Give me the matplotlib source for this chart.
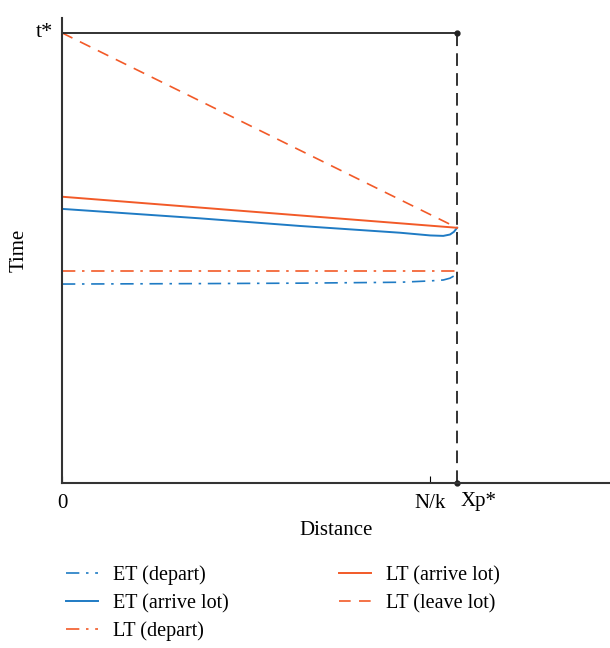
import matplotlib.pyplot as plt

plt.rcParams['font.family'] = ['Liberation Serif', 'DejaVu Serif']

# data (distance normalised so Xp* = 1, time normalised so t* = 1)
x_line = [0.0, 1.0]
lt_leave = [1.0, 0.567]
lt_arrive = [0.636, 0.567]
lt_depart = [0.471, 0.471]

x_et_arrive = [0.0, 0.349, 0.603, 0.856, 0.932, 0.965, 0.982, 0.992, 1.0]
et_arrive = [0.609, 0.588, 0.571, 0.556, 0.550, 0.549, 0.552, 0.558, 0.567]

x_et_depart = [0.0, 0.349, 0.603, 0.856, 0.932, 0.965, 0.982, 0.992, 1.0]
et_depart = [0.442, 0.443, 0.444, 0.446, 0.449, 0.451, 0.455, 0.460, 0.467]

nk = 0.932
xp = 1.0
tstar = 1.0

blue = '#1f7bc4'
orange = '#f25a28'

fig = plt.figure(figsize=(6.10, 6.48), dpi=100)
ax = fig.add_axes([0.1016, 0.2546, 0.8984, 0.7176])

ax.plot(x_et_depart, et_depart, color=blue, lw=1.2, dashes=(8, 4, 1.5, 4), label='ET (depart)')
ax.plot(x_et_arrive, et_arrive, color=blue, lw=1.4, label='ET (arrive lot)')
ax.plot(x_line, lt_depart, color=orange, lw=1.2, dashes=(8, 4, 1.5, 4), label='LT (depart)')
ax.plot(x_line, lt_arrive, color=orange, lw=1.4, label='LT (arrive lot)')
ax.plot(x_line, lt_leave, color=orange, lw=1.2, dashes=(7, 5), label='LT (leave lot)')

# reference lines
ax.plot([0, xp], [tstar, tstar], color='#222222', lw=1.3)
ax.plot([xp, xp], [0, tstar], color='#222222', lw=1.3, dashes=(7, 4))
ax.plot([xp, xp], [0, tstar], 'o', color='#222222', ms=3.5, clip_on=False)

ax.set_xlim(0, 1.387)
ax.set_ylim(0, 1.033)
for s in ['top', 'right']:
    ax.spines[s].set_visible(False)
for s in ['left', 'bottom']:
    ax.spines[s].set_linewidth(1.5)
    ax.spines[s].set_color('#333333')

ax.set_xticks([0, nk])
ax.set_xticklabels(['0', 'N/k'], fontsize=15)
ax.tick_params(axis='x', direction='in', length=5, width=0.8, pad=8)
ax.set_yticks([])
ax.text(-0.022, tstar, 't*', fontsize=16, ha='right', va='center')
ax.text(xp + 0.01, -0.019, 'Xp*', fontsize=15, ha='left', va='top')

ax.set_xlabel('Distance', fontsize=15, labelpad=6)
ax.set_ylabel('Time', fontsize=15, labelpad=24)

fig.legend(loc='upper left', bbox_to_anchor=(0.078, 0.155), ncol=2, frameon=False,
           fontsize=14.5, handlelength=1.6, handletextpad=0.75, columnspacing=5.45,
           labelspacing=0.42)

plt.savefig('out.png', dpi=100)
